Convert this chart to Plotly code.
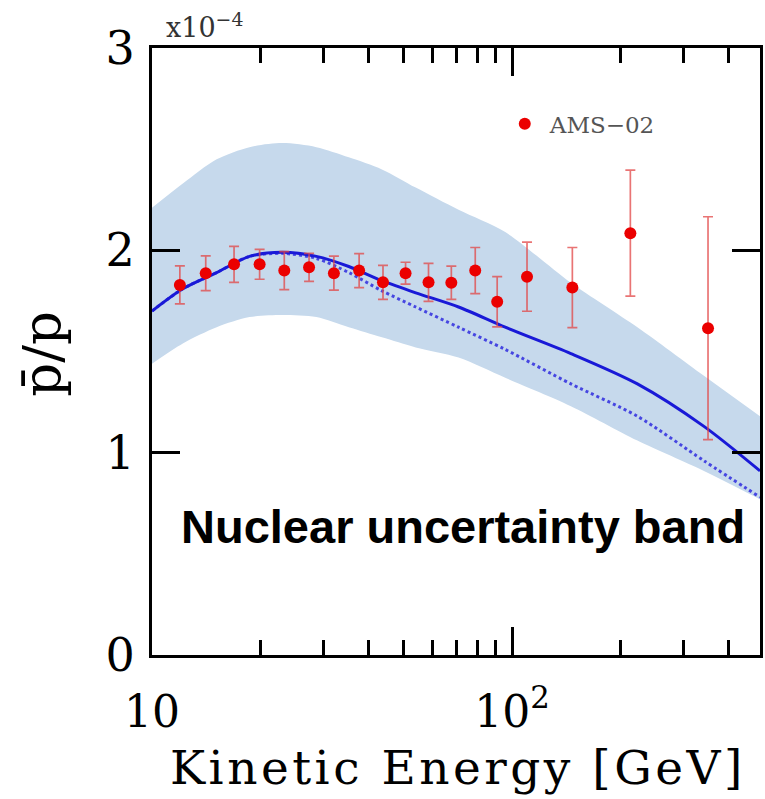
import plotly.graph_objects as go
import numpy as np

# AMS-02 data (antiproton / proton ratio, units of 1e-4)
ams_energy = [11.95, 14.1, 16.9, 19.9, 23.3, 27.3, 32.0, 37.6, 43.8, 50.6,
              58.6, 67.8, 79.0, 90.9, 110, 147, 213, 350]
ams_ratio = [1.829, 1.887, 1.931, 1.931, 1.900, 1.916, 1.887, 1.900, 1.842, 1.887,
             1.842, 1.840, 1.900, 1.746, 1.870, 1.816, 2.085, 1.615]
ams_err = [0.094, 0.086, 0.089, 0.074, 0.094, 0.069, 0.084, 0.084, 0.084, 0.054,
           0.094, 0.082, 0.114, 0.124, 0.171, 0.198, 0.311, 0.551]

# model curves
curve_energy = [10.0, 12.18, 15.12, 18.65, 23.0, 28.6, 35.2, 43.5, 54.0, 71.0,
                95.7, 145.6, 222.8, 341, 488]
band_upper = [2.21, 2.33, 2.45, 2.51, 2.53, 2.51, 2.46, 2.40, 2.31, 2.20,
              2.09, 1.84, 1.62, 1.38, 1.18]
band_lower = [1.44, 1.54, 1.62, 1.67, 1.68, 1.67, 1.62, 1.57, 1.52, 1.47,
              1.37, 1.23, 1.06, 0.91, 0.77]
solid_curve = [1.70, 1.81, 1.89, 1.97, 1.99, 1.97, 1.92, 1.85, 1.79, 1.72,
               1.62, 1.49, 1.34, 1.13, 0.91]
dotted_curve = [1.70, 1.81, 1.89, 1.97, 1.985, 1.96, 1.89, 1.80, 1.72, 1.62,
                1.51, 1.34, 1.18, 0.96, 0.78]

x_major = [10, 100]
x_major_text = ["10", "10<sup>2</sup>"]
x_minor = [20, 30, 40, 50, 60, 70, 80, 90, 200, 300, 400]
y_major = [0, 1, 2, 3]

SERIF = "DejaVu Serif"

fig = go.Figure()
fig.add_trace(go.Scatter(x=curve_energy, y=band_upper, mode="lines",
                         line=dict(width=0, shape="spline", smoothing=0.8),
                         hoverinfo="skip", showlegend=False))
fig.add_trace(go.Scatter(x=curve_energy, y=band_lower, mode="lines",
                         line=dict(width=0, shape="spline", smoothing=0.8),
                         fill="tonexty", fillcolor="rgb(198,217,236)",
                         hoverinfo="skip", showlegend=False))
fig.add_trace(go.Scatter(x=curve_energy, y=dotted_curve, mode="lines",
                         line=dict(color="rgb(70,70,225)", width=3, dash="dot",
                                   shape="spline", smoothing=0.8),
                         showlegend=False))
fig.add_trace(go.Scatter(x=curve_energy, y=solid_curve, mode="lines",
                         line=dict(color="rgb(25,25,215)", width=3,
                                   shape="spline", smoothing=0.8),
                         showlegend=False))
fig.add_trace(go.Scatter(x=ams_energy, y=ams_ratio, mode="markers", name="AMS\u221202",
                         marker=dict(color="rgb(235,0,0)", size=12),
                         error_y=dict(type="data", array=ams_err, color="rgba(225,70,70,0.75)",
                                      thickness=1.7, width=5)))

fig.update_layout(
    width=765, height=799,
    margin=dict(l=152, r=2, t=48, b=144),
    plot_bgcolor="white", paper_bgcolor="white",
    showlegend=True,
    legend=dict(x=0.572, y=0.875, xanchor="left", yanchor="middle",
                itemwidth=40,
                bgcolor="rgba(0,0,0,0)",
                font=dict(family=SERIF, size=23, color="#555555")),
    xaxis=dict(type="log", range=[1, np.log10(488)],
               tickmode="array", tickvals=x_major, ticktext=x_major_text,
               ticks="inside", ticklen=28, tickwidth=3, tickcolor="black",
               showline=True, linewidth=3, linecolor="black", mirror="ticks",
               showgrid=False, zeroline=False,
               ticklabelstandoff=16,
               tickfont=dict(family=SERIF, size=44, color="black"),
               minor=dict(tickmode="array", tickvals=x_minor, ticks="inside",
                          ticklen=15, tickwidth=3, tickcolor="black", showgrid=False)),
    yaxis=dict(range=[0, 3], tickmode="array", tickvals=y_major,
               ticks="inside", ticklen=28, tickwidth=3, tickcolor="black",
               showline=True, linewidth=3, linecolor="black", mirror="ticks",
               showgrid=False, zeroline=False,
               ticklabelstandoff=5,
               tickfont=dict(family=SERIF, size=46, color="black")),
    annotations=[
        dict(text="x10<sup>\u22124</sup>", xref="paper", yref="paper", x=0.019, y=1.037,
             xanchor="left", yanchor="middle", showarrow=False,
             font=dict(family=SERIF, size=27, color="#333333")),
        dict(text="<b>Nuclear uncertainty band</b>", xref="paper", yref="paper",
             x=0.511, y=0.211, xanchor="center", yanchor="middle", showarrow=False,
             font=dict(family="Liberation Sans", size=47, color="black")),
        dict(text="<span style='letter-spacing:3.5px'>Kinetic Energy [GeV]</span>",
             xref="paper", yref="paper",
             x=0.503, y=-0.186, xanchor="center", yanchor="middle", showarrow=False,
             font=dict(family=SERIF, size=47, color="black")),
        dict(text="p\u0304/p", xref="paper", yref="paper", textangle=-90,
             x=-0.182, y=0.497, xanchor="center", yanchor="middle", showarrow=False,
             font=dict(family=SERIF, size=53, color="black")),
    ],
)

fig.write_html("out.html")
